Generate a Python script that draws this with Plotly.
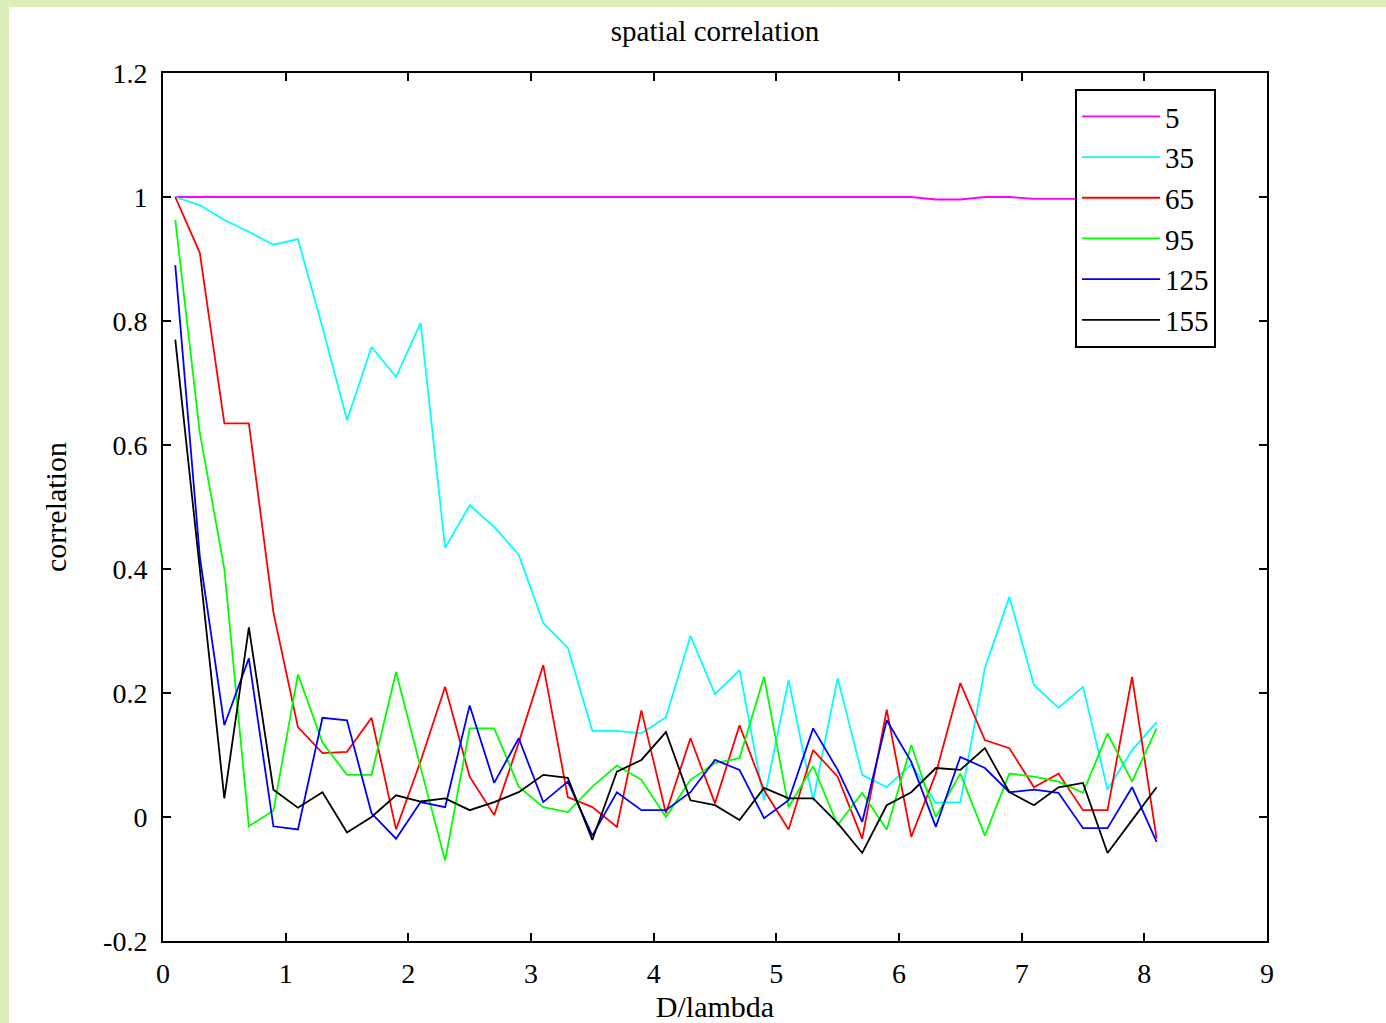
import plotly.graph_objects as go

x = [0.1, 0.3, 0.5, 0.7, 0.9, 1.1, 1.3, 1.5, 1.7, 1.9, 2.1, 2.3, 2.5, 2.7, 2.9,
     3.1, 3.3, 3.5, 3.7, 3.9, 4.1, 4.3, 4.5, 4.7, 4.9, 5.1, 5.3, 5.5, 5.7, 5.9,
     6.1, 6.3, 6.5, 6.7, 6.9, 7.1, 7.3, 7.5, 7.7, 7.9, 8.1]

s5 = [1.0, 1.0, 1.0, 1.0, 1.0, 1.0, 1.0, 1.0, 1.0, 1.0, 1.0, 1.0, 1.0, 1.0, 1.0,
      1.0, 1.0, 1.0, 1.0, 1.0, 1.0, 1.0, 1.0, 1.0, 1.0, 1.0, 1.0, 1.0, 1.0, 1.0,
      1.0, 0.996, 0.996, 1.0, 1.0, 0.997, 0.997, 0.997, 0.997, 0.997, 0.997]

s35 = [1.0, 0.987, 0.963, 0.944, 0.923, 0.932, 0.79, 0.64, 0.758, 0.71, 0.797,
       0.434, 0.503, 0.468, 0.423, 0.313, 0.273, 0.139, 0.139, 0.135, 0.161,
       0.292, 0.198, 0.237, 0.027, 0.221, 0.027, 0.224, 0.068, 0.048, 0.085,
       0.023, 0.024, 0.24, 0.355, 0.213, 0.176, 0.21, 0.044, 0.108, 0.153]

s65 = [1.0, 0.91, 0.635, 0.635, 0.33, 0.145, 0.103, 0.105, 0.16, -0.02, 0.09,
       0.21, 0.065, 0.003, 0.12, 0.245, 0.032, 0.016, -0.016, 0.172, 0.006,
       0.127, 0.022, 0.148, 0.043, -0.02, 0.108, 0.065, -0.035, 0.173, -0.032,
       0.07, 0.216, 0.124, 0.111, 0.048, 0.07, 0.011, 0.011, 0.226, -0.035]

s95 = [0.963, 0.62, 0.40, -0.015, 0.01, 0.23, 0.12, 0.068, 0.068, 0.234, 0.08,
       -0.07, 0.143, 0.143, 0.049, 0.016, 0.008, 0.049, 0.083, 0.06, 0.0,
       0.06, 0.087, 0.095, 0.226, 0.016, 0.082, -0.013, 0.039, -0.02, 0.116,
       0.0, 0.07, -0.03, 0.07, 0.065, 0.057, 0.039, 0.135, 0.057, 0.143]

s125 = [0.89, 0.42, 0.148, 0.256, -0.015, -0.02, 0.16, 0.156, 0.006, -0.035,
        0.024, 0.016, 0.18, 0.055, 0.127, 0.024, 0.057, -0.03, 0.04, 0.011,
        0.011, 0.04, 0.092, 0.076, -0.002, 0.027, 0.143, 0.076, -0.008, 0.156,
        0.089, -0.016, 0.097, 0.079, 0.04, 0.044, 0.039, -0.018, -0.018, 0.048,
        -0.04]

s155 = [0.77, 0.40, 0.03, 0.306, 0.044, 0.015, 0.04, -0.025, 0.0, 0.035, 0.025,
        0.03, 0.011, 0.024, 0.04, 0.068, 0.063, -0.037, 0.073, 0.092, 0.137,
        0.027, 0.019, -0.005, 0.047, 0.03, 0.03, -0.01, -0.058, 0.019, 0.04,
        0.079, 0.076, 0.111, 0.04, 0.019, 0.048, 0.055, -0.058, -0.005, 0.048]

series_names = ["5", "35", "65", "95", "125", "155"]
series_values = [s5, s35, s65, s95, s125, s155]
series_colors = ["#ff00ff", "#00ffff", "#ff0000", "#00ff00", "#0000ff", "#000000"]

x_tickvals = [0, 1, 2, 3, 4, 5, 6, 7, 8, 9]
x_ticktext = ["0", "1", "2", "3", "4", "5", "6", "7", "8", "9"]
y_tickvals = [-0.2, 0, 0.2, 0.4, 0.6, 0.8, 1.0, 1.2]
y_ticktext = ["-0.2", "0", "0.2", "0.4", "0.6", "0.8", "1", "1.2"]

FONT = "Liberation Serif, Times New Roman, serif"

fig = go.Figure()
for name, vals, col in zip(series_names, series_values, series_colors):
    fig.add_trace(go.Scatter(x=x, y=vals, mode="lines", name=name,
                             line=dict(color=col, width=1.8)))

W, H = 1386, 1023
L, R, T, B = 163, 119, 73, 82
pw, ph = W - L - R, H - T - B

# white page area over light green slide background
fig.add_shape(type="rect", xref="paper", yref="paper",
              x0=(9 - L) / pw, x1=(W - L + 5) / pw,
              y0=-(B + 5) / ph, y1=(H - B - 7) / ph,
              fillcolor="white", line=dict(width=0), layer="below")

axis_common = dict(showline=True, linecolor="black", linewidth=2, mirror="ticks",
                   ticks="inside", ticklen=8, tickwidth=1.5, tickcolor="black",
                   showgrid=False, zeroline=False,
                   tickfont=dict(family=FONT, size=28, color="black"))

fig.update_xaxes(range=[0, 9], tickvals=x_tickvals, ticktext=x_ticktext,
                 title=dict(text="D/lambda", font=dict(family=FONT, size=30, color="black"),
                            standoff=16),
                 ticklabelstandoff=6, **axis_common)
fig.update_yaxes(range=[-0.2, 1.2], tickvals=y_tickvals, ticktext=y_ticktext,
                 title=dict(text="correlation", font=dict(family=FONT, size=30, color="black"),
                            standoff=28),
                 ticklabelstandoff=8, **axis_common)

fig.update_layout(
    width=W, height=H,
    margin=dict(l=L, r=R, t=T, b=B, autoexpand=False),
    paper_bgcolor="#dcedb8",
    plot_bgcolor="white",
    title=dict(text="spatial correlation", x=(L + pw / 2) / W, xanchor="center",
               y=1 - 31 / H, yanchor="middle", yref="container", xref="container",
               font=dict(family=FONT, size=29, color="black")),
    legend=dict(x=(1075 - L) / pw, y=(H - B - 89) / ph, xanchor="left", yanchor="top",
                bgcolor="white", bordercolor="black", borderwidth=2,
                font=dict(family=FONT, size=29, color="black"),
                itemwidth=78, tracegroupgap=0),
    showlegend=True,
)

fig.write_html("out.html", config={"displayModeBar": False},
               post_script="document.body.style.margin='0px';document.body.style.overflow='hidden';")
